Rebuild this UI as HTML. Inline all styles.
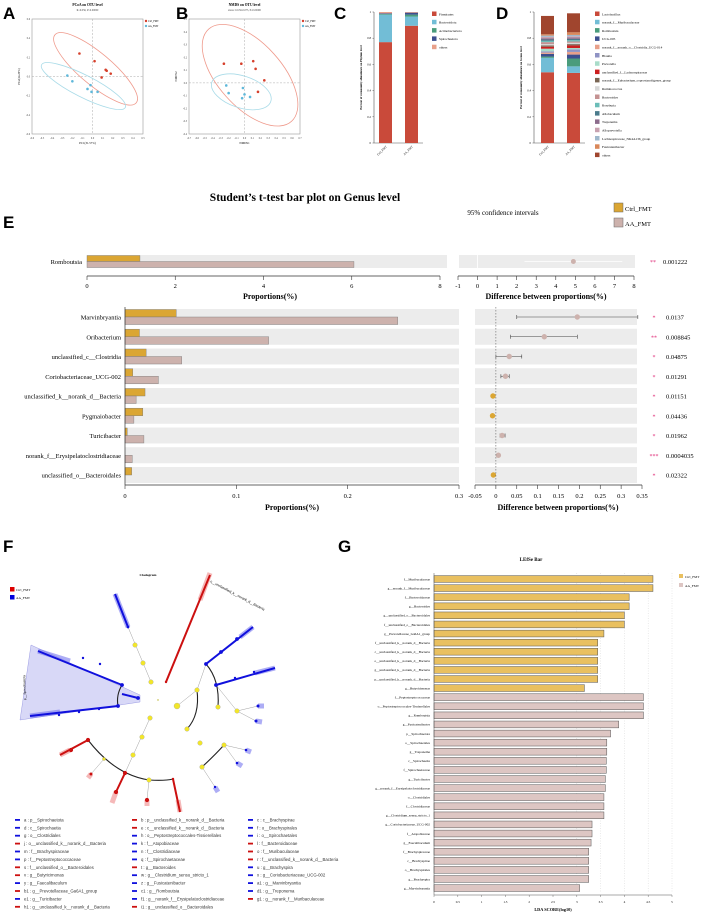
<!DOCTYPE html>
<html><head><meta charset="utf-8"><style>
html,body{margin:0;padding:0;background:#fff}
svg{display:block;font-family:"Liberation Serif",serif}
.sans{font-family:"Liberation Sans",sans-serif}
</style></head><body>
<svg id="fig" width="708" height="915" viewBox="0 0 708 915" xmlns="http://www.w3.org/2000/svg">
<g id="root"></g>
</svg>
<script>
// ---------- data ----------
const pcoaCtrlX=[-0.13,0.02,0.13,0.14,0.18,0.09];
const pcoaCtrlY=[0.24,0.16,0.07,0.06,0.03,-0.01];
const pcoaAAX=[-0.25,-0.2,-0.02,-0.05,-0.01,0.05];
const pcoaAAY=[0.01,-0.05,-0.09,-0.13,-0.16,-0.16];
const nmdsCtrlX=[-0.26,-0.04,0.11,0.14,0.25,0.17];
const nmdsCtrlY=[0.15,0.15,0.17,0.11,0.02,-0.07];
const nmdsAAX=[-0.23,-0.2,-0.02,0.0,-0.03,0.07];
const nmdsAAY=[-0.02,-0.08,-0.04,-0.09,-0.12,-0.11];
const phylumNames=["Firmicutes","Bacteroidota","Actinobacteriota","Spirochaetota","others"];
const phylumCtrl=[0.77,0.21,0.005,0.005,0.01];
const phylumAA=[0.895,0.07,0.015,0.015,0.005];
const phylumColors=["#c94a3a","#72bdd6","#4a9c7c","#3d4f8f","#e8a08a"];
const genusNames=["Lactobacillus","norank_f__Muribaculaceae","Romboutsia","UCG-005","norank_f__norank_o__Clostridia_UCG-014","Blautia","Prevotella","unclassified_f__Lachnospiraceae","norank_f__Eubacterium_coprostanoligenes_group","Ruminococcus","Bacteroides","Roseburia","Allobaculum","Treponema","Alloprevotella","Lachnospiraceae_NK4A136_group","Fusicatenibacter","others"];
const genusCtrl=[0.54,0.11,0.01,0.02,0.01,0.01,0.02,0.015,0.01,0.01,0.015,0.01,0.01,0.01,0.01,0.01,0.01,0.14];
const genusAA=[0.535,0.05,0.06,0.03,0.02,0.02,0.01,0.02,0.01,0.01,0.01,0.01,0.01,0.01,0.01,0.01,0.02,0.145];
const genusColors=["#c94a3a","#72bdd6","#4a9c7c","#3d4f8f","#e8a08a","#8f93c4","#a9dcc9","#cc1f1f","#7a6654","#d8d8d8","#c49292","#6bbdb8","#4b7b8c","#8c6c8c","#c8a2b0","#9fb8cc","#d9875a","#a0452e"];
const romCats=["Romboutsia"];
const romCtrl=[1.2];
const romAA=[6.05];
const romDiff=[4.9];const romLo=[2.4];const romHi=[7.4];
const romP=["0.001222"];const romStar=["**"];
const tCats=["Marvinbryantia","Oribacterium","unclassified_c__Clostridia","Coriobacteriaceae_UCG-002","unclassified_k__norank_d__Bacteria","Pygmaiobacter","Turicibacter","norank_f__Erysipelatoclostridiaceae","unclassified_o__Bacteroidales"];
const tCtrl=[0.046,0.013,0.019,0.007,0.018,0.016,0.002,0.0,0.006];
const tAA=[0.245,0.129,0.051,0.030,0.010,0.008,0.017,0.0065,0.0];
const tDiff=[0.195,0.116,0.032,0.023,-0.007,-0.008,0.015,0.006,-0.006];
const tLo=[0.05,0.035,0.0,0.012,-0.009,-0.011,0.01,0.005,-0.008];
const tHi=[0.34,0.195,0.062,0.032,-0.005,-0.005,0.022,0.007,-0.004];
const tP=["0.0137","0.008845","0.04875","0.01291","0.01151","0.04436","0.01962","0.0004035","0.02322"];
const tStar=["*","**","*","*","*","*","*","***","*"];
const propTicks=[0,0.1,0.2,0.3];
const diffTicks=[-0.05,0,0.05,0.1,0.15,0.2,0.25,0.3,0.35];
const lefseLabels=["f__Muribaculaceae","g__norank_f__Muribaculaceae","f__Bacteroidaceae","g__Bacteroides","g__unclassified_o__Bacteroidales","f__unclassified_o__Bacteroidales","g__Prevotellaceae_Ga6A1_group","f__unclassified_k__norank_d__Bacteria","c__unclassified_k__norank_d__Bacteria","o__unclassified_k__norank_d__Bacteria","g__unclassified_k__norank_d__Bacteria","p__unclassified_k__norank_d__Bacteria","g__Butyricimonas","f__Peptostreptococcaceae","o__Peptostreptococcales-Tissierellales","g__Romboutsia","g__Fusicatenibacter","p__Spirochaetota","o__Spirochaetales","g__Treponema","c__Spirochaetia","f__Spirochaetaceae","g__Turicibacter","g__norank_f__Erysipelatoclostridiaceae","o__Clostridiales","f__Clostridiaceae","g__Clostridium_sensu_stricto_1","g__Coriobacteriaceae_UCG-002","f__Atopobiaceae","g__Faecalibaculum","f__Brachyspiraceae","c__Brachyspirae","o__Brachyspirales","g__Brachyspira","g__Marvinbryantia"];
const lefseScores=[4.6,4.6,4.1,4.1,4.0,4.0,3.57,3.44,3.44,3.44,3.44,3.44,3.16,4.4,4.4,4.4,3.88,3.71,3.63,3.63,3.62,3.62,3.6,3.6,3.57,3.57,3.57,3.32,3.32,3.3,3.25,3.25,3.25,3.25,3.06];
const lefseGroup=[0,0,0,0,0,0,0,0,0,0,0,0,0,1,1,1,1,1,1,1,1,1,1,1,1,1,1,1,1,1,1,1,1,1,1];
const ldaTicks=[0,0.5,1,1.5,2,2.5,3,3.5,4,4.5,5];
const cladoLegend=[["a : p__Spirochaetota",1],["d : c__Spirochaetia",1],["g : o__Clostridiales",1],["j : o__unclassified_k__norank_d__Bacteria",0],["m : f__Brachyspiraceae",1],["p : f__Peptostreptococcaceae",1],["s : f__unclassified_o__Bacteroidales",0],["v : g__Butyricimonas",0],["y : g__Faecalibaculum",1],["b1 : g__Prevotellaceae_Ga6A1_group",0],["e1 : g__Turicibacter",1],["h1 : g__unclassified_k__norank_d__Bacteria",0],
["b : p__unclassified_k__norank_d__Bacteria",0],["e : c__unclassified_k__norank_d__Bacteria",0],["h : o__Peptostreptococcales-Tissierellales",1],["k : f__Atopobiaceae",1],["n : f__Clostridiaceae",1],["q : f__Spirochaetaceae",1],["t : g__Bacteroides",0],["w : g__Clostridium_sensu_stricto_1",1],["z : g__Fusicatenibacter",1],["c1 : g__Romboutsia",1],["f1 : g__norank_f__Erysipelatoclostridiaceae",1],["i1 : g__unclassified_o__Bacteroidales",0],
["c : c__Brachyspirae",1],["f : o__Brachyspirales",1],["i : o__Spirochaetales",1],["l : f__Bacteroidaceae",0],["o : f__Muribaculaceae",0],["r : f__unclassified_k__norank_d__Bacteria",0],["u : g__Brachyspira",1],["x : g__Coriobacteriaceae_UCG-002",1],["a1 : g__Marvinbryantia",1],["d1 : g__Treponema",1],["g1 : g__norank_f__Muribaculaceae",0]];

const NS="http://www.w3.org/2000/svg";
const root=document.getElementById('root');
function mk(tag,at,parent){const e=document.createElementNS(NS,tag);for(const k in at)e.setAttribute(k,at[k]);(parent||root).appendChild(e);return e;}
function tx(x,y,s,size,at){const e=mk('text',Object.assign({x:x,y:y,'font-size':size},at||{}));e.textContent=s;return e;}
const GOLD="#dba633",PINK="#cdb2ad";

// ---------- panel letters ----------
[["A",3,19],["B",176,19],["C",334,19],["D",496,19],["E",3,228],["F",3,552],["G",338,552]].forEach(p=>{
 const e=tx(p[1],p[2],p[0],17,{'font-weight':'bold','class':'sans'});
 
 
});

// ---------- scatter panels ----------
function scatter(x0,x1,y0,y1,xmin,xmax,ymin,ymax,cx,cy,ax,ay,title,sub,xl,yl,ell,tag){
 const g=mk('g',{});
 
 
 const sx=v=>x0+(v-xmin)/(xmax-xmin)*(x1-x0), sy=v=>y1-(v-ymin)/(ymax-ymin)*(y1-y0);
 mk('rect',{x:x0,y:y0,width:x1-x0,height:y1-y0,fill:'none',stroke:'#999','stroke-width':0.6},g);
 mk('line',{x1:sx(0),x2:sx(0),y1:y0,y2:y1,stroke:'#aaa','stroke-width':0.5,'stroke-dasharray':'2,1.5'},g);
 mk('line',{x1:x0,x2:x1,y1:sy(0),y2:sy(0),stroke:'#aaa','stroke-width':0.5,'stroke-dasharray':'2,1.5'},g);
 for(let i=0;i<=Math.round((xmax-xmin)*10);i++){const v=xmin+i*0.1;tx(sx(v),y1+5,v.toFixed(1),2.6,{'text-anchor':'middle',fill:'#444'},g);}
 for(let i=0;i<=Math.round((ymax-ymin)*10);i+=(tag==='pcoa'?2:1)){const v=ymin+i*0.1;tx(x0-2,sy(v)+1,v.toFixed(1),2.6,{'text-anchor':'end',fill:'#444'},g);}
 const t=tx((x0+x1)/2,6,title,3.6,{'text-anchor':'middle','font-weight':'bold'},g);
 
 
 tx((x0+x1)/2,11,sub,2.6,{'text-anchor':'middle',fill:'#444'},g);
 tx((x0+x1)/2,y1+10,xl,3,{'text-anchor':'middle'},g);
 tx(x0-12,(y0+y1)/2,yl,3,{'text-anchor':'middle',transform:`rotate(-90 ${x0-12} ${(y0+y1)/2})`},g);
 ell.forEach(e=>{const el=mk('ellipse',{cx:sx(e[0]),cy:sy(e[1]),rx:e[2],ry:e[3],transform:`rotate(${e[4]} ${sx(e[0])} ${sy(e[1])})`,fill:'none',stroke:e[5],'stroke-width':0.8},g);
  
  });
 cx.forEach((v,i)=>{const c=mk('circle',{cx:sx(v),cy:sy(cy[i]),r:1.3,fill:'#d6402c'},g);
  
  });
 ax.forEach((v,i)=>{const c=mk('circle',{cx:sx(v),cy:sy(ay[i]),r:1.3,fill:'#5fb8da'},g);
  
  });
 mk('circle',{cx:x1+3,cy:y0+2,r:1.2,fill:'#d6402c'},g);tx(x1+5,y0+3,'Ctrl_FMT',2.6,{},g);
 mk('circle',{cx:x1+3,cy:y0+7,r:1.2,fill:'#5fb8da'},g);tx(x1+5,y0+8,'AA_FMT',2.6,{},g);
}
scatter(32,143,19,134,-0.6,0.5,-0.6,0.6,pcoaCtrlX,pcoaCtrlY,pcoaAAX,pcoaAAY,"PCoA on OTU level","R=0.056, P=0.00000","PC1(31.57%)","PC2(24.29%)",
 [[0.03,0.08,53,16,40,'#ef9a8c'],[-0.09,-0.1,47,11,27,'#a9dbe8']],'pcoa');
scatter(189,300,19,134,-0.7,0.7,-0.4,0.5,nmdsCtrlX,nmdsCtrlY,nmdsAAX,nmdsAAY,"NMDS on OTU level","stress: 0.0.56-0.075, P=0.00000","NMDS1","NMDS2",
 [[0.07,0.06,62,32,48,'#ef9a8c'],[-0.04,-0.07,31,16,18,'#a9dbe8']],'nmds');

// ---------- stacked bars C, D ----------
function stacked(ax0,ytop,ybot,bars,vals,names,cols,tag,ylab,lx){
 const sy=v=>ybot-v*(ybot-ytop);
 mk('line',{x1:ax0,x2:ax0,y1:ytop,y2:ybot,stroke:'#555','stroke-width':0.6});
 mk('line',{x1:ax0,x2:bars[1]+18,y1:ybot,y2:ybot,stroke:'#555','stroke-width':0.6});
 [0,0.2,0.4,0.6,0.8,1].forEach(v=>{mk('line',{x1:ax0-1.5,x2:ax0,y1:sy(v),y2:sy(v),stroke:'#555','stroke-width':0.5});tx(ax0-3,sy(v)+1,String(v),3,{'text-anchor':'end'});});
 tx(ax0-12,(ytop+ybot)/2,ylab,3,{'text-anchor':'middle','font-weight':'bold',transform:`rotate(-90 ${ax0-12} ${(ytop+ybot)/2})`});
 ["Ctrl_FMT","AA_FMT"].forEach((n,b)=>{
  let acc=0;
  vals[b].forEach((v,i)=>{const r=mk('rect',{x:bars[b],y:sy(acc+v),width:13,height:v*(ybot-ytop),fill:cols[i]});
   
   acc+=v;});
  tx(bars[b]+8,ybot+4,n,3,{'text-anchor':'end',transform:`rotate(-45 ${bars[b]+8} ${ybot+4})`});
 });
 names.forEach((n,i)=>{const y=14+i*8.3;mk('rect',{x:lx,y:y-2.5,width:4.5,height:4.5,fill:cols[i]});
  const t=tx(lx+7,y+1.3,n,3.4);});
}
stacked(374,12,143,[379,405],[phylumCtrl,phylumAA],phylumNames,phylumColors,'phylum','Percent of community abundance on Phylum level',432);
stacked(534,12,143,[541,567],[genusCtrl,genusAA],genusNames,genusColors,'genus','Percent of community abundance on Genus level',595);

// ---------- panel E ----------
{const t=tx(305,201,"Student’s t-test bar plot on Genus level",11.5,{'text-anchor':'middle','font-weight':'bold'});
 }
tx(503,215,"95% confidence intervals",7,{'text-anchor':'middle'});
mk('rect',{x:614,y:203,width:9,height:9,fill:GOLD,stroke:'#666','stroke-width':0.5});tx(625,211,"Ctrl_FMT",6.5);
mk('rect',{x:614,y:218,width:9,height:9,fill:PINK,stroke:'#666','stroke-width':0.5});tx(625,226,"AA_FMT",6.5);
// Romboutsia
{const sx=v=>87+v/8*(440-87), dx=v=>458+(v+1)/9*(634-458);
 romCats.forEach((c,i)=>{
  mk('rect',{x:87,y:255,width:360,height:13,fill:'#ececec'});
  mk('rect',{x:459,y:255,width:176,height:13,fill:'#ececec'});
  mk('line',{x1:dx(0),x2:dx(0),y1:255,y2:268,stroke:'#fff','stroke-width':0.8});
  let r=mk('rect',{x:sx(0),y:255.5,width:sx(romCtrl[i])-sx(0),height:6,fill:GOLD,stroke:'#777','stroke-width':0.4});
  
  r=mk('rect',{x:sx(0),y:261.5,width:sx(romAA[i])-sx(0),height:6,fill:PINK,stroke:'#777','stroke-width':0.4});
  
  tx(82,264,c,6.5,{'text-anchor':'end'});
  mk('line',{x1:dx(romLo[i]),x2:dx(romHi[i]),y1:261.5,y2:261.5,stroke:'#fff','stroke-width':0.8});
  const p=mk('circle',{cx:dx(romDiff[i]),cy:261.5,r:2.5,fill:PINK});
  
  tx(650,264,romStar[i],6,{fill:'#e0307a'});tx(663,264,romP[i],6.5);
 });
 mk('line',{x1:87,x2:440,y1:276,y2:276,stroke:'#333','stroke-width':0.7});
 for(let v=0;v<=8;v+=2){mk('line',{x1:sx(v),x2:sx(v),y1:276,y2:280,stroke:'#333','stroke-width':0.6});tx(sx(v),288,String(v),6.5,{'text-anchor':'middle'});}
 mk('line',{x1:458,x2:634,y1:276,y2:276,stroke:'#333','stroke-width':0.7});
 for(let v=-1;v<=8;v++){mk('line',{x1:dx(v),x2:dx(v),y1:276,y2:280,stroke:'#333','stroke-width':0.6});tx(dx(v),288,String(v),6.5,{'text-anchor':'middle'});}
 tx(270,299,"Proportions(%)",8,{'text-anchor':'middle','font-weight':'bold'});
 tx(546,299,"Difference between proportions(%)",8,{'text-anchor':'middle','font-weight':'bold'});
}
// lower E
{const sx=v=>125+v/0.3*(459-125), dx=v=>475+(v+0.05)/0.4*(642-475), ry=i=>317+i*19.75;
 tCats.forEach((c,i)=>{const y=ry(i);
  mk('rect',{x:125,y:y-8,width:334,height:16,fill:'#ececec'});
  mk('rect',{x:475,y:y-8,width:162,height:16,fill:'#ececec'});
  let r=mk('rect',{x:sx(0),y:y-7.5,width:Math.max(0,sx(tCtrl[i])-sx(0)),height:7.5,fill:GOLD,stroke:'#777','stroke-width':0.4});
  
  r=mk('rect',{x:sx(0),y:y,width:Math.max(0,sx(tAA[i])-sx(0)),height:7.5,fill:PINK,stroke:'#777','stroke-width':0.4});
  
  tx(121,y+2.5,c,6.5,{'text-anchor':'end'});
  mk('line',{x1:dx(tLo[i]),x2:dx(tHi[i]),y1:y,y2:y,stroke:'#444','stroke-width':0.6});
  mk('line',{x1:dx(tLo[i]),x2:dx(tLo[i]),y1:y-2,y2:y+2,stroke:'#444','stroke-width':0.6});
  mk('line',{x1:dx(tHi[i]),x2:dx(tHi[i]),y1:y-2,y2:y+2,stroke:'#444','stroke-width':0.6});
  const p=mk('circle',{cx:dx(tDiff[i]),cy:y,r:2.7,fill:tDiff[i]>=0?PINK:GOLD});
  
  tx(654,y+2.5,tStar[i],6,{fill:'#e0307a','text-anchor':'middle'});tx(666,y+2.5,tP[i],6.5);
 });
 mk('line',{x1:dx(0),x2:dx(0),y1:307,y2:483,stroke:'#666','stroke-width':0.6,'stroke-dasharray':'1.5,1.5'});
 mk('line',{x1:125,x2:125,y1:307,y2:485,stroke:'#333','stroke-width':0.7});
 mk('line',{x1:125,x2:459,y1:485,y2:485,stroke:'#333','stroke-width':0.7});
 propTicks.forEach(v=>{mk('line',{x1:sx(v),x2:sx(v),y1:485,y2:489,stroke:'#333','stroke-width':0.6});tx(sx(v),498,String(v),6.5,{'text-anchor':'middle'});});
 mk('line',{x1:475,x2:642,y1:485,y2:485,stroke:'#333','stroke-width':0.7});
 diffTicks.forEach(v=>{mk('line',{x1:dx(v),x2:dx(v),y1:485,y2:489,stroke:'#333','stroke-width':0.6});tx(dx(v),498,String(v),6.5,{'text-anchor':'middle'});});
 tx(292,510,"Proportions(%)",8,{'text-anchor':'middle','font-weight':'bold'});
 tx(558,510,"Difference between proportions(%)",8,{'text-anchor':'middle','font-weight':'bold'});
}

// ---------- panel F cladogram ----------
{const g=mk('g',{});
 tx(148,576,"Cladogram",3.5,{'text-anchor':'middle','font-weight':'bold'},g);
 mk('rect',{x:10,y:587,width:4.5,height:4.5,fill:'#d00'},g);tx(16,591,"Ctrl_FMT",3.5,{},g);
 mk('rect',{x:10,y:595,width:4.5,height:4.5,fill:'#00d'},g);tx(16,599,"AA_FMT",3.5,{},g);
 mk('polygon',{points:'31,645 140,695 140,702 20,720',fill:'#c8c8f4',stroke:'#8888dd','stroke-width':0.4,'fill-opacity':0.7},g);
 tx(26,700,"p__Spirochaetota",3.2,{transform:'rotate(-92 26 700)','class':'sans'},g);
 const bands=[[115,594,128,627,'#7777ee'],[210,573,200,600,'#ee8888'],[38,651,70,661,'#7777ee'],[30,716,60,712,'#7777ee'],[253,627,240,637,'#7777ee'],[275,668,255,673,'#7777ee'],[60,755,70,750,'#ee8888'],[112,803,116,792,'#ee8888'],[180,812,178,800,'#ee8888'],[258,706,264,706,'#7777ee'],[256,721,262,722,'#7777ee'],[246,750,251,752,'#7777ee'],[237,763,242,766,'#7777ee'],[215,787,218,792,'#7777ee'],[91,774,88,778,'#ee8888'],[147,800,147,806,'#ee8888']];
 bands.forEach(b=>mk('line',{x1:b[0],y1:b[1],x2:b[2],y2:b[3],stroke:b[4],'stroke-width':5,'stroke-opacity':0.6},g));
 [[128,627,151,682],[197,690,206,664],[216,685,237,711],[237,711,258,706],[237,711,256,721],[224,745,246,750],[224,745,237,763],[202,767,215,787],[150,718,125,773],[104,759,91,774],[149,780,147,800],[177,706,197,690]].forEach(l=>mk('line',{x1:l[0],y1:l[1],x2:l[2],y2:l[3],stroke:'#888','stroke-width':0.4},g));
 [[115,594,128,627,'#1010dd'],[210,575,166,682,'#cc1010'],[122,685,38,651,'#1010dd'],[118,706,30,716,'#1010dd'],[122,694,138,698,'#1010dd'],[206,664,253,627,'#1010dd'],[216,685,275,668,'#1010dd'],[88,740,60,755,'#cc1010'],[125,773,116,792,'#cc1010'],[173,779,180,812,'#cc1010']].forEach(l=>mk('line',{x1:l[0],y1:l[1],x2:l[2],y2:l[3],stroke:l[4],'stroke-width':2},g));
 ['M122,685 Q116,695 118,706','M206,664 Q220,680 218,707','M197,690 Q200,715 187,729','M224,745 Q215,755 202,767','M88,740 Q115,775 149,780 Q165,781 173,779'].forEach(d=>mk('path',{d:d,fill:'none',stroke:'#222','stroke-width':1.1},g));
 tx(210,582,"o__unclassified_k__norank_d__Bacteria",3.4,{transform:'rotate(28 210 582)','class':'sans'},g);
 const yel=[[135,645],[143,663],[151,682],[197,690],[177,706,3],[218,707],[237,711],[187,729],[200,743],[224,745],[202,767],[150,718],[142,737],[133,755],[104,759,1.6],[149,780]];
 yel.forEach(n=>{const c=mk('circle',{cx:n[0],cy:n[1],r:n[2]||2.3,fill:'#f2e62a',stroke:'#999','stroke-width':0.3},g);});
 const blue=[[128,627,1.4],[122,685],[118,706],[138,698],[206,664],[216,685],[258,706,1.5],[256,721,1.5],[246,750,1.3],[237,763,1.3],[215,787,1.2],[100,664,1.2],[83,658,1.2],[59,715,1.2],[79,712,1.2],[99,709,1.2],[221,652],[237,639],[235,678,1.2],[254,672,1.2]];
 blue.forEach(n=>{const c=mk('circle',{cx:n[0],cy:n[1],r:n[2]||1.9,fill:'#1010dd'},g);});
 const red=[[166,682,1.2],[88,740],[71,750],[125,773],[116,792],[147,800],[173,779,1.2],[91,774,1.5]];
 red.forEach(n=>{const c=mk('circle',{cx:n[0],cy:n[1],r:n[2]||2.1,fill:'#cc1010'},g);});
 mk('circle',{cx:158,cy:700,r:0.7,fill:'#b8b020'},g);
 const colsX=[15,132,248],rows=[12,12,11];let k=0;
 for(let c=0;c<3;c++){for(let r=0;r<rows[c];r++){const it=cladoLegend[k++];const y=820+r*7.9;
  mk('rect',{x:colsX[c],y:y-1,width:5,height:1.8,fill:it[1]?'#1010dd':'#cc1010'},g);
  const t=tx(colsX[c]+9,y+1.4,it[0],4.3,{'class':'sans',fill:'#333'},g);
  }}
}

// ---------- panel G LEfSe ----------
{const g=mk('g',{});
 const sx=v=>434+v/5*(672-434), ry=i=>579+i*9.09;
 tx(531,561,"LEfSe Bar",5,{'text-anchor':'middle','font-weight':'bold'},g);
 ldaTicks.forEach(v=>{if(v>=3)mk('line',{x1:sx(v),x2:sx(v),y1:573,y2:893,stroke:'#ccc','stroke-width':0.4,'stroke-dasharray':'1,1.5'},g);});
 lefseLabels.forEach((l,i)=>{const y=ry(i);
  const r=mk('rect',{x:sx(0),y:y-3.4,width:sx(lefseScores[i])-sx(0),height:6.8,fill:lefseGroup[i]?'#ddc6c3':'#e9c060',stroke:'#555','stroke-width':0.5},g);
  
  tx(430,y+1.3,l,3.4,{'text-anchor':'end'},g);
 });
 mk('line',{x1:434,x2:434,y1:573,y2:895,stroke:'#555','stroke-width':0.5},g);
 mk('line',{x1:434,x2:672,y1:895,y2:895,stroke:'#555','stroke-width':0.5},g);
 ldaTicks.forEach(v=>{mk('line',{x1:sx(v),x2:sx(v),y1:895,y2:897,stroke:'#555','stroke-width':0.4},g);tx(sx(v),903,String(v),3.3,{'text-anchor':'middle'},g);});
 tx(553,911,"LDA SCORE(log10)",4.3,{'text-anchor':'middle','font-weight':'bold'},g);
 mk('rect',{x:679,y:574,width:4,height:4,fill:'#e9c060'},g);tx(685,578,"Ctrl_FMT",3.5,{},g);
 mk('rect',{x:679,y:583,width:4,height:4,fill:'#ddc6c3'},g);tx(685,587,"AA_FMT",3.5,{},g);
}
</script>
</body></html>
